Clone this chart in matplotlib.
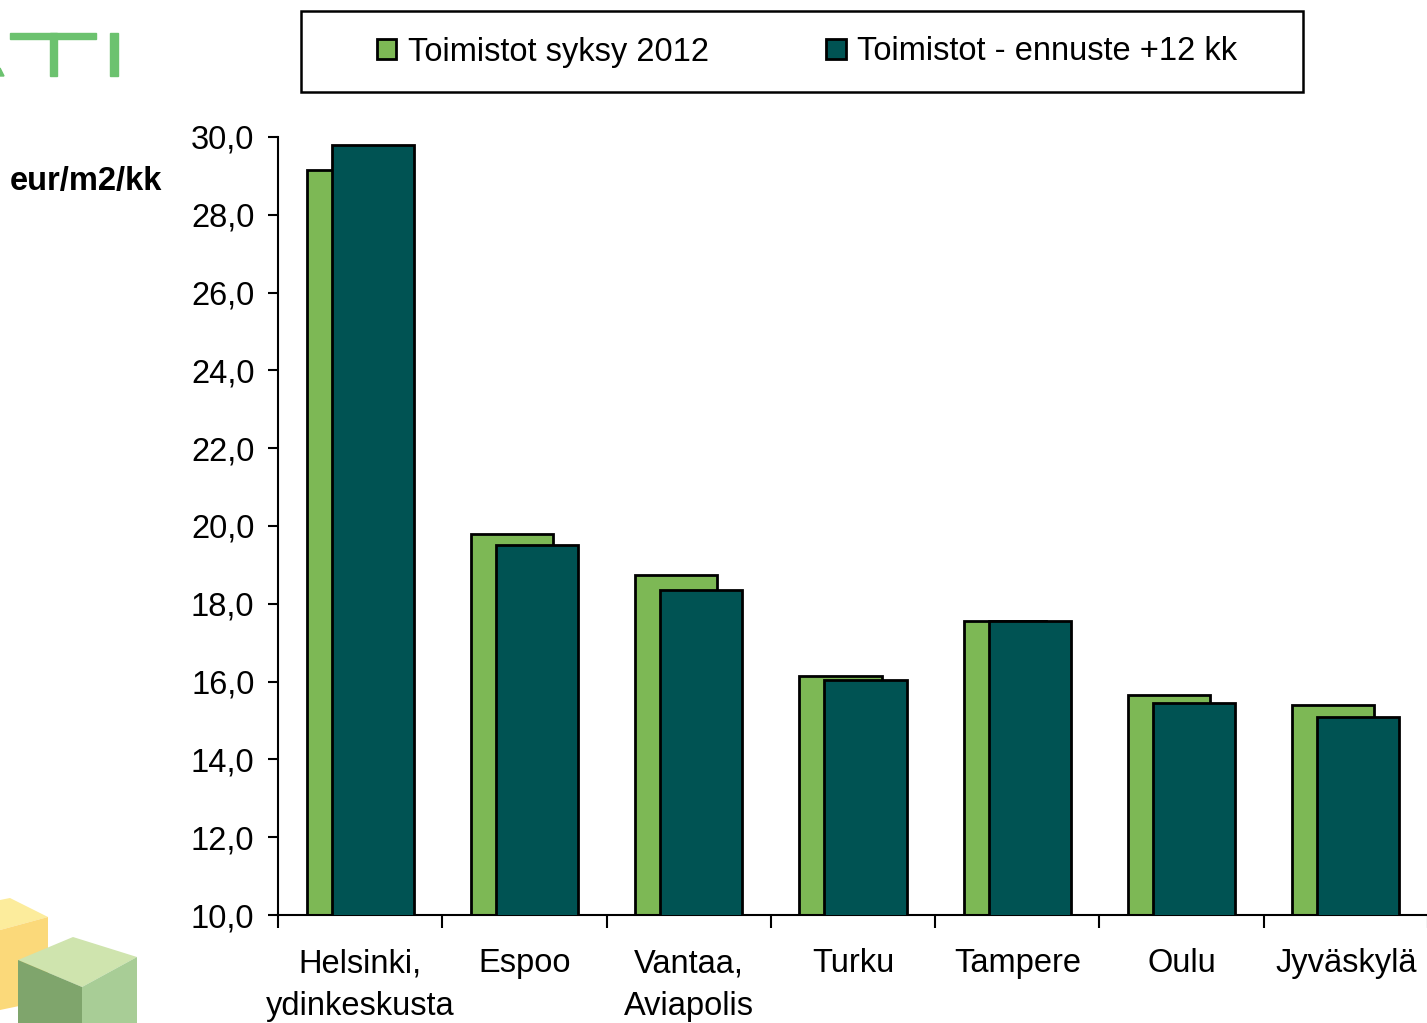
import numpy as np
import matplotlib
matplotlib.use("Agg")
import matplotlib.pyplot as plt
from matplotlib.patches import Rectangle, Polygon
from matplotlib.ticker import FuncFormatter, MultipleLocator

plt.rcParams['font.family'] = ['Liberation Sans', 'DejaVu Sans']

cities = ['Helsinki,\nydinkeskusta', 'Espoo', 'Vantaa,\nAviapolis', 'Turku',
          'Tampere', 'Oulu', 'Jyväskylä']
syksy_2012 = [29.15, 19.8, 18.75, 16.15, 17.55, 15.65, 15.4]
ennuste_12kk = [29.8, 19.5, 18.35, 16.05, 17.55, 15.45, 15.1]
series_names = ['Toimistot syksy 2012', 'Toimistot - ennuste +12 kk']

W, H = 1427, 1023
fig = plt.figure(figsize=(W / 100, H / 100), dpi=100)


def fx(x):
    return x / W


def fy(y):
    return 1 - y / H


ax = fig.add_axes([fx(278), fy(915), fx(1428) - fx(278), fy(137) - fy(915)])

green = '#7db855'
teal = '#005353'
fs = 23.5
x = np.arange(len(cities))
off = 0.076
ax.bar(x - off, syksy_2012, width=0.5, color=green, edgecolor='black',
       linewidth=2, zorder=2, label=series_names[0])
ax.bar(x + off, ennuste_12kk, width=0.5, color=teal, edgecolor='black',
       linewidth=2, zorder=3, label=series_names[1])

ax.set_xlim(-0.5, len(cities) - 0.5)
ax.set_ylim(10, 30)
ax.yaxis.set_major_locator(MultipleLocator(2))
ax.yaxis.set_major_formatter(FuncFormatter(lambda v, p: f"{v:.1f}".replace('.', ',')))

ax.set_xticks(x)
ax.set_xticklabels(cities, linespacing=1.47)
ax.set_xticks(np.arange(-0.5, len(cities), 1), minor=True)
ax.tick_params(axis='x', which='major', length=0, pad=24, labelsize=fs)
ax.tick_params(axis='x', which='minor', length=9, width=1.5, direction='out')
ax.tick_params(axis='y', length=7, width=1.5, pad=10, labelsize=fs)

for s in ['top', 'right']:
    ax.spines[s].set_visible(False)
for s in ['left', 'bottom']:
    ax.spines[s].set_linewidth(1.5)

fig.text(fx(10), fy(181), 'eur/m2/kk', fontsize=fs, fontweight='bold',
         ha='left', va='center')

# legend with its own box
fig.patches.append(Rectangle((fx(301), fy(92)), fx(1303) - fx(301), fy(11) - fy(92),
                             transform=fig.transFigure, fill=False,
                             edgecolor='black', linewidth=1.8))
fig.legend(loc='center', bbox_to_anchor=(fx(807), fy(52)), ncol=2, frameon=False,
           fontsize=fs, handlelength=0.6, handleheight=0.6, handletextpad=0.35,
           columnspacing=3.6)

# logo pieces
logo_green = '#6cc26f'
for (x0, y0, x1, y1) in [(10, 33, 96, 39), (50, 33, 57, 76), (110, 33, 118, 76)]:
    fig.patches.append(Rectangle((fx(x0), fy(y1)), fx(x1) - fx(x0), fy(y0) - fy(y1),
                                 transform=fig.transFigure, color=logo_green))
fig.patches.append(Polygon([(fx(0), fy(68)), (fx(4), fy(76)), (fx(0), fy(76))],
                           closed=True, transform=fig.transFigure, color=logo_green))


def poly(pts, color, alpha=1.0):
    fig.patches.append(Polygon([(fx(a), fy(b)) for a, b in pts], closed=True,
                               transform=fig.transFigure, color=color, alpha=alpha,
                               linewidth=0))


poly([(0, 900), (10, 898), (48, 917), (0, 930)], '#fcec9c')
poly([(0, 930), (48, 917), (48, 1000), (0, 1010)], '#fbd97a')
poly([(18, 960), (73, 937), (137, 957), (82, 987)], '#cfe4ae')
poly([(18, 960), (82, 987), (82, 1023), (18, 1023)], '#7fa56c')
poly([(82, 987), (137, 957), (137, 1023), (82, 1023)], '#a8cd96')

fig.savefig('out.png', dpi=100)
